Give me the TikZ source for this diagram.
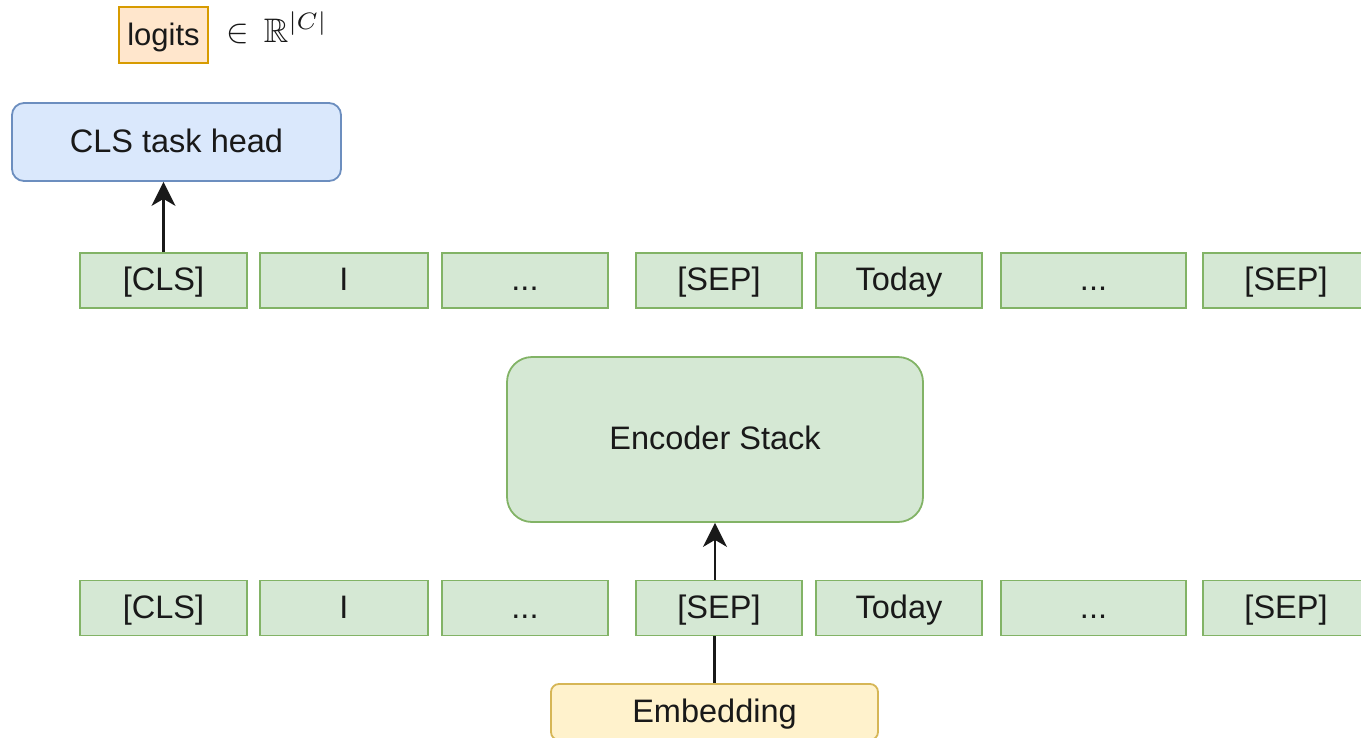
\documentclass[tikz,border=0pt]{standalone}
\usepackage{amssymb}
\usepackage{graphicx}
\usepackage{fontspec}
\setmainfont{Liberation Sans}
\usetikzlibrary{arrows.meta}
\definecolor{gfill}{HTML}{D5E8D4}
\definecolor{gline}{HTML}{82B366}
\definecolor{bfill}{HTML}{DAE8FC}
\definecolor{bline}{HTML}{6C8EBF}
\definecolor{ofill}{HTML}{FFE6CC}
\definecolor{oline}{HTML}{D79B00}
\definecolor{yfill}{HTML}{FFF2CC}
\definecolor{yline}{HTML}{D6B656}
\newcommand{\tdots}{...}
\tikzset{
  base/.style={inner sep=0pt, line width=1.8pt, font=\fontsize{32.5}{38}\selectfont, text=black!90, text height=23.3pt, text depth=3pt},
  tok/.style={base, draw=gline, fill=gfill, minimum height=55pt},
  conn/.style={line width=2.2pt, draw=black!90},
  arr/.style={conn, -{Stealth[length=24pt,width=24pt,inset=7pt]}},
}
\begin{document}
\begin{tikzpicture}[x=1pt,y=-1pt]
\useasboundingbox (0,0) rectangle (1361,737);
% logits
\node[base, draw=oline, fill=ofill, minimum width=89pt, minimum height=56pt, font=\fontsize{31}{36}\selectfont] (logits) at (163.5,35) {logits};
\node[inner sep=0pt, anchor=base west, text=black!90] (dom) at (226,42) {\fontsize{10}{12}\selectfont\scalebox{3.4}{$\in\,\mathbb{R}^{|C|}$}};
% head
\node[base, draw=bline, fill=bfill, rounded corners=12pt, minimum width=329pt, minimum height=78pt] (head) at (176.5,142) {CLS task head};
% top row
\foreach \n/\xa/\xb/\t in {t1/80/247/[CLS], t2/260/428/I, t3/442/608/\tdots, t4/636/802/[SEP], t5/816/982/Today, t6/1001/1186/\tdots, t7/1203/1369/[SEP]}{
  \node[tok, minimum width={\xb-\xa}] (\n) at ({(\xa+\xb)/2},280.5) {\t};
}
% bottom row
\foreach \n/\xa/\xb/\t in {b1/80/247/[CLS], b2/260/428/I, b3/442/608/\tdots, b4/636/802/[SEP], b5/816/982/Today, b6/1001/1186/\tdots, b7/1203/1369/[SEP]}{
  \node[tok, minimum width={\xb-\xa}] (\n) at ({(\xa+\xb)/2},608) {\t};
}
% encoder
\node[base, draw=gline, fill=gfill, rounded corners=25pt, minimum width=416pt, minimum height=165pt] (enc) at (715,439.5) {Encoder Stack};
% embedding
\node[base, draw=yline, fill=yfill, rounded corners=8pt, minimum width=327pt, minimum height=56pt] (emb) at (714.5,712) {Embedding};
% connectors
\draw[arr] (t1.north) -- (t1.north |- head.south);
\draw[arr] (b4.north -| enc.south) -- (enc.south);
\draw[conn] (emb.north) -- (emb.north |- b4.south);
\end{tikzpicture}
\end{document}
